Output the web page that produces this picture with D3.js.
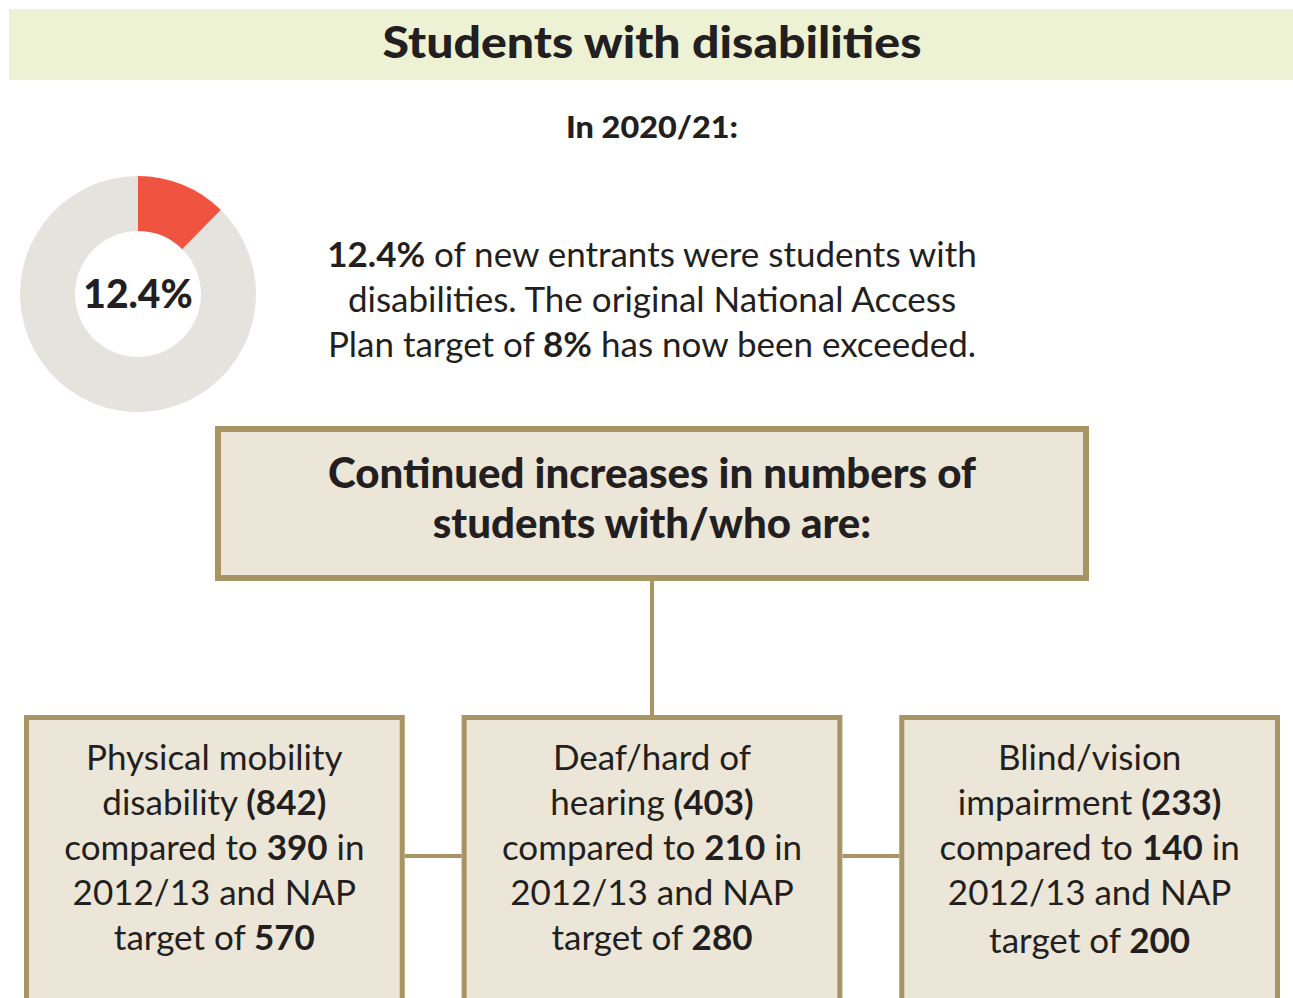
<!DOCTYPE html>
<html>
<head>
<meta charset="utf-8">
<script src="https://cdn.jsdelivr.net/npm/d3@7"></script>
<style>
  body { margin: 0; background: #fff; }
  svg { display: block; font-family: Lato, "Open Sans", sans-serif; }
</style>
</head>
<body>
<svg width="1293" height="998"></svg>
<script>
// data
var year = "2020/21";
var sharePct = 12.4;
var napTargetPct = 8;
var categories = ["Physical mobility disability", "Deaf/hard of hearing", "Blind/vision impairment"];
var nameLine1 = ["Physical mobility", "Deaf/hard of", "Blind/vision"];
var nameLine2 = ["disability", "hearing", "impairment"];
var current = [842, 403, 233];
var base2012 = [390, 210, 140];
var napTarget = [570, 280, 200];

var svg = d3.select("svg"),
    width = +svg.attr("width"),
    height = +svg.attr("height");

var ink = "#231f20",
    gold = "#a99563",
    boxFill = "#ebe6d7";

// title band
svg.append("rect")
    .attr("x", 9).attr("y", 9)
    .attr("width", width - 9).attr("height", 71)
    .attr("fill", "#eef2d5");

svg.append("text")
    .attr("x", 652).attr("y", 58)
    .attr("text-anchor", "middle")
    .attr("textLength", 539)
    .attr("lengthAdjust", "spacingAndGlyphs")
    .style("font-size", "44px").style("font-weight", 900)
    .attr("fill", ink)
    .text("Students with disabilities");

svg.append("text")
    .attr("x", 652).attr("y", 138)
    .attr("text-anchor", "middle")
    .attr("textLength", 172)
    .attr("lengthAdjust", "spacingAndGlyphs")
    .style("font-size", "30px").style("font-weight", 900)
    .attr("fill", ink)
    .text("In " + year + ":");

// donut
var pie = d3.pie().sort(null).value(function (d) { return d; });
var arc = d3.arc().innerRadius(63).outerRadius(118);
var donutColor = d3.scaleOrdinal().domain([0, 1]).range(["#f0533f", "#e5e3de"]);

var donut = svg.append("g").attr("transform", "translate(138,294)");
donut.selectAll("path")
    .data(pie([sharePct, 100 - sharePct]))
    .enter().append("path")
    .attr("d", arc)
    .attr("fill", function (d, i) { return donutColor(i); });

donut.append("text")
    .attr("y", 14)
    .attr("text-anchor", "middle")
    .style("font-size", "39px").style("font-weight", 900)
    .attr("fill", ink)
    .text(sharePct + "%");

// helper: a centered line made of plain / bold parts
function line(parent, x, y, size, parts) {
    var t = parent.append("text")
        .attr("x", x).attr("y", y)
        .attr("text-anchor", "middle")
        .style("font-size", size + "px")
        .attr("fill", ink);
    parts.forEach(function (p) {
        var bold = typeof p === "object";
        t.append("tspan")
            .style("font-weight", bold ? (p.w || 700) : 400)
            .text(bold ? p.b : p);
    });
    return t;
}

var para = [
    [{b: sharePct + "%"}, " of new entrants were students with"],
    ["disabilities. The original National Access"],
    ["Plan target of ", {b: napTargetPct + "%"}, " has now been exceeded."]
];
para.forEach(function (p, i) {
    line(svg, 652, 267 + i * 45, 35, p);
});

// header box
svg.append("rect")
    .attr("x", 218).attr("y", 429)
    .attr("width", 868).attr("height", 149)
    .attr("fill", boxFill)
    .attr("stroke", gold).attr("stroke-width", 6);

line(svg, 652, 488, 42, [{b: "Continued increases in numbers of", w: 900}]);
line(svg, 652, 538, 42, [{b: "students with/who are:", w: 900}]);

// connectors
svg.append("line")
    .attr("x1", 652).attr("x2", 652)
    .attr("y1", 581).attr("y2", 716)
    .attr("stroke", gold).attr("stroke-width", 4);

var x = d3.scaleBand()
    .domain(categories)
    .range([24, 1280])
    .paddingInner(0.13)
    .paddingOuter(0);

svg.selectAll(".hconn")
    .data(categories.slice(1))
    .enter().append("line")
    .attr("class", "hconn")
    .attr("x1", function (d, i) { return x(categories[i]) + x.bandwidth(); })
    .attr("x2", function (d) { return x(d); })
    .attr("y1", 856).attr("y2", 856)
    .attr("stroke", gold).attr("stroke-width", 4);

var boxes = svg.selectAll(".cat")
    .data(categories)
    .enter().append("g")
    .attr("class", "cat")
    .attr("transform", function (d) { return "translate(" + x(d) + ",715)"; });

boxes.append("rect")
    .attr("x", 2.5).attr("y", 2.5)
    .attr("width", x.bandwidth() - 5).attr("height", 320)
    .attr("fill", boxFill)
    .attr("stroke", gold).attr("stroke-width", 5);

boxes.each(function (d, i) {
    var g = d3.select(this),
        cx = x.bandwidth() / 2;
    var lines = [
        [nameLine1[i]],
        [nameLine2[i] + " ", {b: "(" + current[i] + ")"}],
        ["compared to ", {b: String(base2012[i])}, " in"],
        ["2012/13 and NAP"],
        ["target of ", {b: String(napTarget[i])}]
    ];
    lines.forEach(function (p, j) {
        var dy = (i === 2 && j === 4) ? 3 : 0;
        line(g, cx, 55 + j * 45 + dy, 35, p);
    });
});
</script>
</body>
</html>
